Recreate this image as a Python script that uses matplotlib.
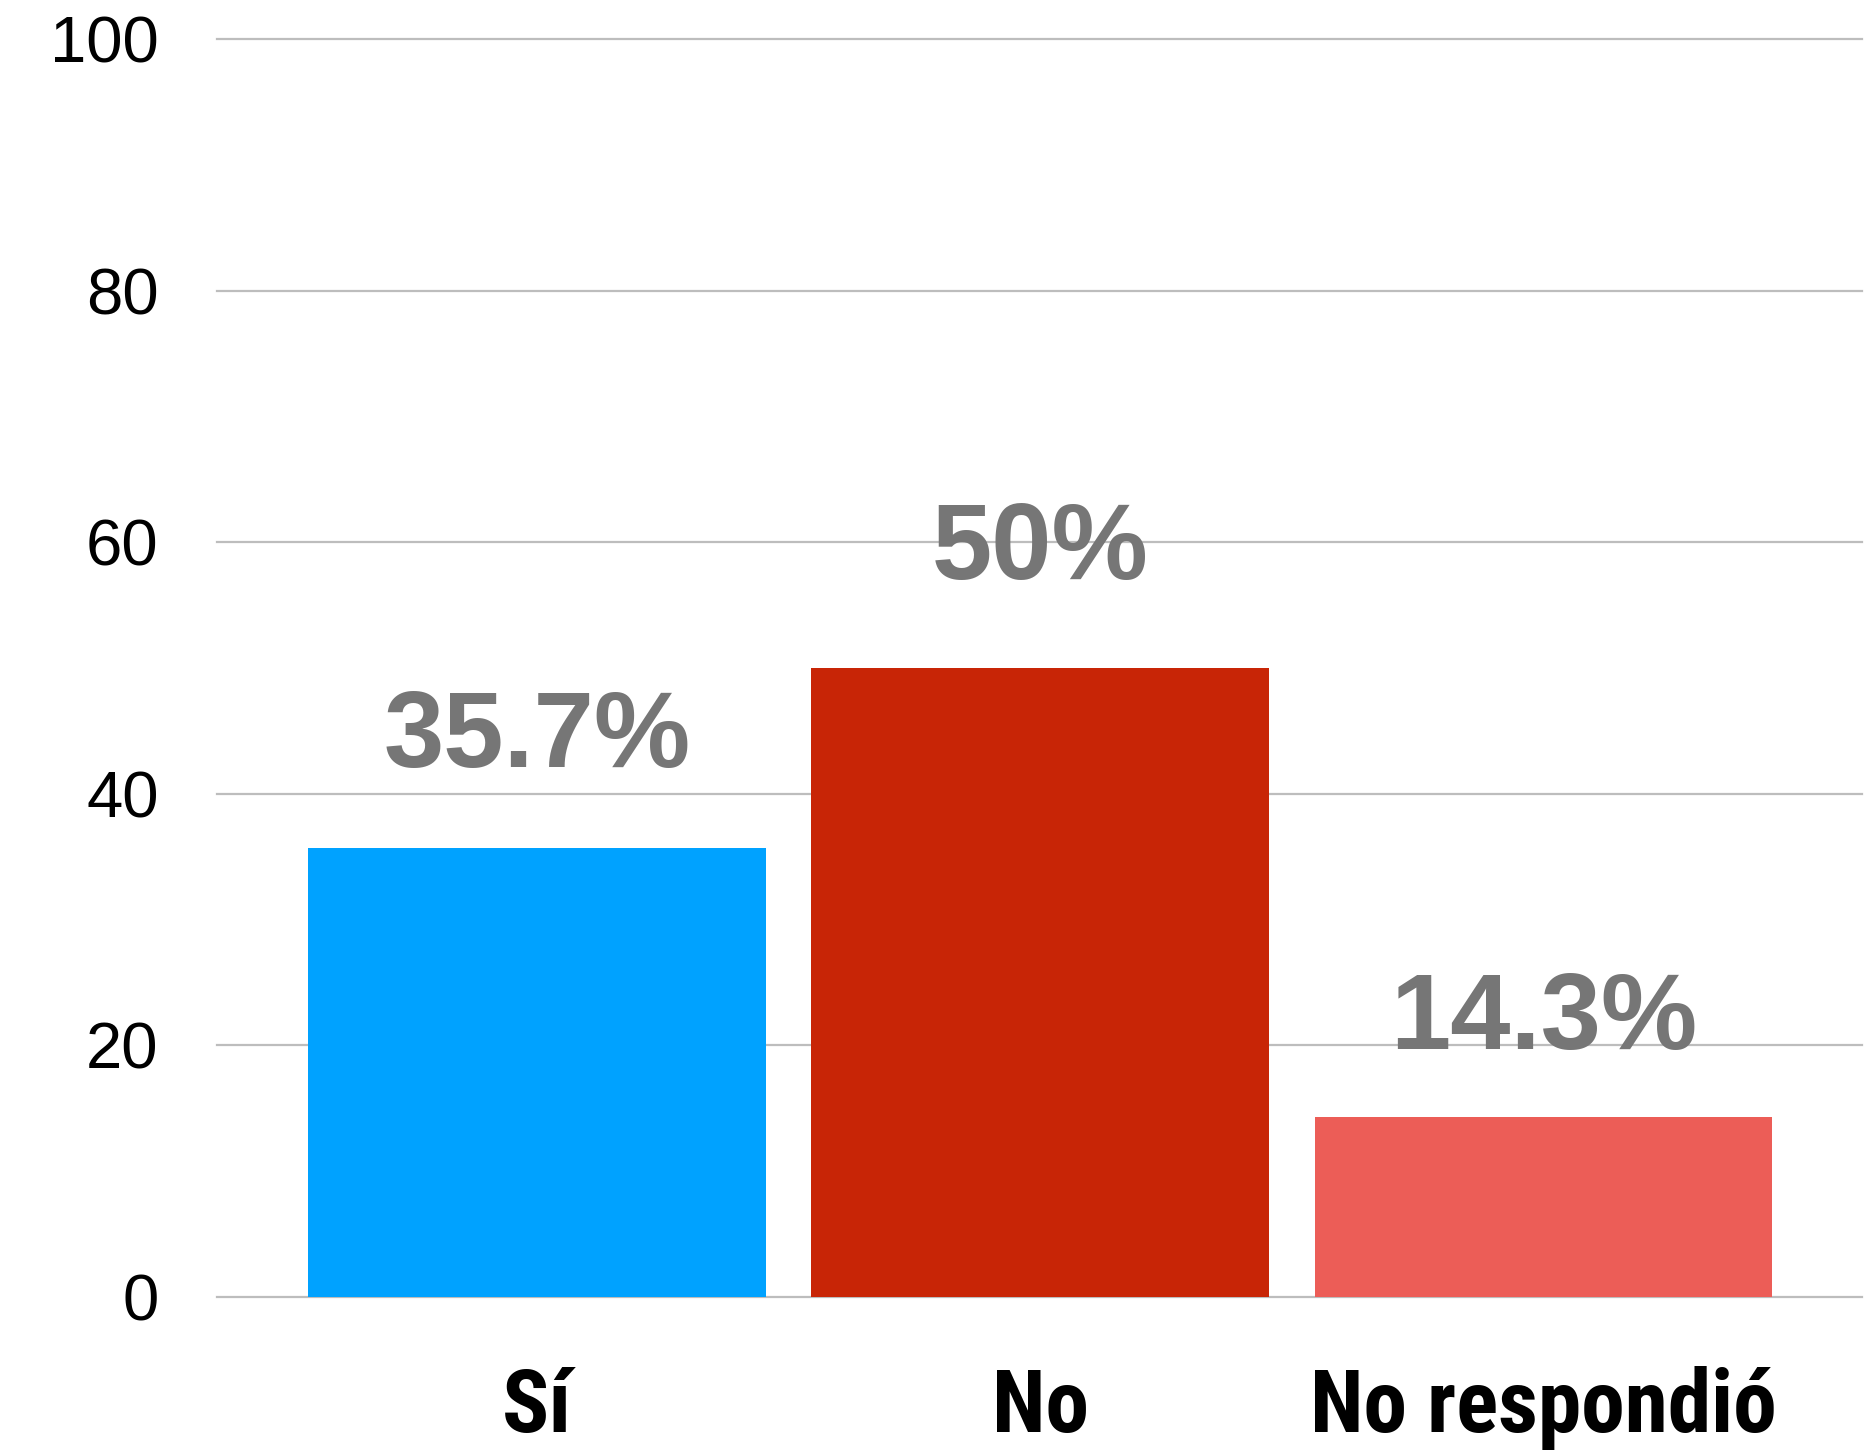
import matplotlib
matplotlib.use("Agg")
import matplotlib.pyplot as plt
from matplotlib import font_manager
from matplotlib.font_manager import FontProperties

categories = ["Sí", "No", "No respondió"]
values = [35.7, 50, 14.3]
value_labels = ["35.7%", "50%", "14.3%"]
colors = ["#00A2FF", "#C82506", "#EC5D57"]
yticks = [0, 20, 40, 60, 80, 100]

# prefer a narrow Helvetica-like bold face if one is installed
cond_fp = None
preferred = ["Roboto Condensed", "Liberation Sans Narrow", "Open Sans Condensed"]
for pref in preferred:
    for f in font_manager.fontManager.ttflist:
        w = f.weight if isinstance(f.weight, int) else {"bold": 700, "heavy": 800, "black": 900}.get(f.weight, 400)
        if f.name == pref and w >= 700:
            cond_fp = FontProperties(fname=f.fname, size=63)
            break
    if cond_fp is not None:
        break
if cond_fp is None:
    cond_fp = FontProperties(family="Liberation Sans", weight="bold", size=56)

fig = plt.figure(figsize=(18.74, 14.5), dpi=100)
ax = fig.add_axes([0.1158, 0.1055, 0.9936 - 0.1158, 0.9729 - 0.1055])

x = list(range(len(categories)))
ax.bar(x, values, width=0.91, color=colors, zorder=3)

for xi, v, lab in zip(x, values, value_labels):
    ax.text(xi, v * 1.045 + 4.8, lab, ha="center", va="baseline", fontsize=78,
            fontweight="bold", color="#767676", family="Liberation Sans", zorder=4)

ax.set_xlim(-0.636, 2.633)
ax.set_ylim(0, 100)
ax.set_yticks(yticks)
ax.set_yticklabels([str(t) for t in yticks], fontsize=47, family="Liberation Sans")
ax.set_xticks(x)
ax.set_xticklabels(categories)
for lbl in ax.get_xticklabels():
    lbl.set_fontproperties(cond_fp)
    lbl.set_verticalalignment("baseline")
ax.tick_params(axis="y", length=0, pad=42)
ax.tick_params(axis="x", length=0, pad=97)
for s in ax.spines.values():
    s.set_visible(False)
for t in yticks:
    ax.axhline(t, color="#BDBDBD", linewidth=1.6, zorder=1, clip_on=False)

fig.savefig("out.png", dpi=100)
